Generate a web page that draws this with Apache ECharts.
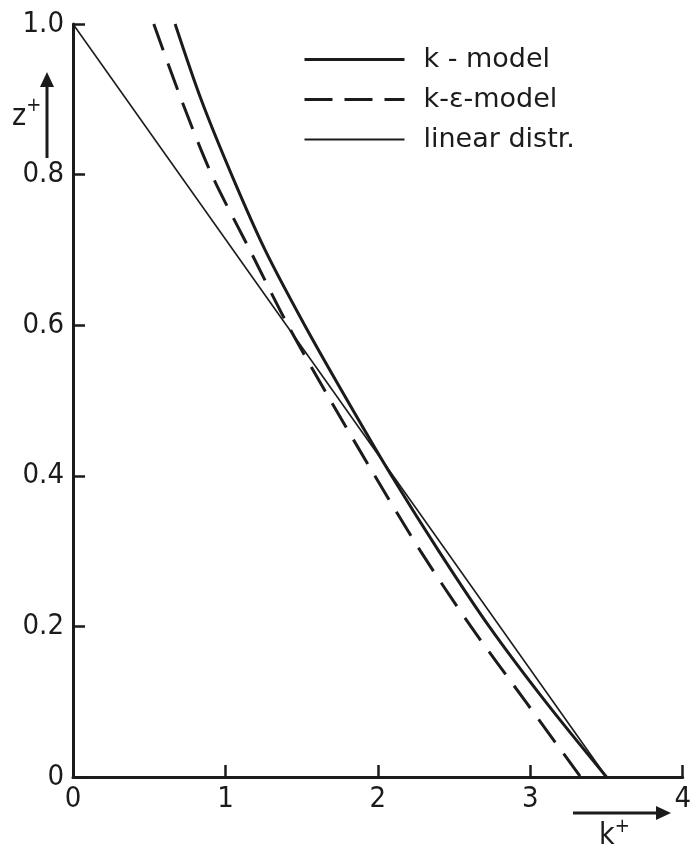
<!DOCTYPE html>
<html>
<head>
<meta charset="utf-8">
<script src="https://cdn.jsdelivr.net/npm/echarts@6/dist/echarts.min.js"></script>
<style>
html,body{margin:0;padding:0;background:#fff;}
#chart{width:694px;height:850px;}
</style>
</head>
<body>
<div id="chart"></div>
<script>
// z+ sample heights (shared by both model curves)
var zValues = [1.0, 0.9, 0.8, 0.7, 0.6, 0.5, 0.4, 0.3, 0.2, 0.1, 0.0];
// k+ values
var kModelX = [0.67, 0.84, 1.04, 1.26, 1.52, 1.80, 2.09, 2.40, 2.73, 3.10, 3.50];
var kEpsModelX = [0.53, 0.71, 0.91, 1.16, 1.41, 1.69, 1.98, 2.28, 2.61, 2.97, 3.33];
// linear distribution end points
var linearX = [0, 3.5];
var linearZ = [1.0, 0.0];
// axis ticks
var xTicks = [0, 1, 2, 3, 4];
var yTickLabels = ['0', '0.2', '0.4', '0.6', '0.8', '1.0'];
var seriesNames = ['k - model', 'k-\u03b5-model', 'linear distr.'];

function pairs(xs, zs) { return xs.map(function (x, i) { return [x, zs[i]]; }); }

var FONT = "'Liberation Sans Narrow', 'DejaVu Sans Condensed', 'Roboto Condensed', 'DejaVu Sans', sans-serif";
var LFONT = "'DejaVu Sans', 'Noto Sans', sans-serif";
var INK = '#1b1b1b';
var HIDE = {color: 'rgba(0,0,0,0)', borderColor: 'rgba(0,0,0,0)', borderWidth: 0, opacity: 0};

var chart = echarts.init(document.getElementById('chart'), null, {renderer: 'canvas'});
chart.setOption({
  backgroundColor: '#ffffff',
  animation: false,
  grid: {left: 73, right: 7, top: 24, bottom: 73, containLabel: false},
  legend: {
    orient: 'vertical',
    left: 303,
    top: 46,
    padding: 0,
    itemWidth: 100,
    itemHeight: 24,
    itemGap: 13,
    itemStyle: HIDE,
    data: [
      {name: seriesNames[0], itemStyle: HIDE, lineStyle: {width: 3, color: INK}},
      {name: seriesNames[1], itemStyle: HIDE, lineStyle: {width: 3, color: INK, type: [28, 12], dashOffset: 0}},
      {name: seriesNames[2], itemStyle: HIDE, lineStyle: {width: 2, color: INK}}
    ],
    textStyle: {fontFamily: LFONT, fontSize: 27, color: INK, padding: [0, 0, 0, 14]}
  },
  xAxis: {
    type: 'value', min: 0, max: 4, interval: 1,
    axisLine: {show: true, lineStyle: {color: INK, width: 3}},
    axisTick: {show: true, inside: true, length: 12, lineStyle: {color: INK, width: 2.5}},
    axisLabel: {
      margin: 8, fontFamily: FONT, fontSize: 29, color: INK,
      formatter: function (v) { return xTicks.indexOf(v) >= 0 ? String(v) : ''; }
    },
    splitLine: {show: false}
  },
  yAxis: {
    type: 'value', min: 0, max: 1, interval: 0.2,
    axisLine: {show: true, lineStyle: {color: INK, width: 3}},
    axisTick: {show: true, inside: true, length: 12, lineStyle: {color: INK, width: 2.5}},
    axisLabel: {
      margin: 9, fontFamily: FONT, fontSize: 29, color: INK,
      formatter: function (v) { return yTickLabels[Math.round(v * 5)]; }
    },
    splitLine: {show: false}
  },
  series: [
    {
      name: seriesNames[0], type: 'line', data: pairs(kModelX, zValues),
      smooth: 0.3, symbol: 'none', lineStyle: {color: INK, width: 3}, itemStyle: {color: INK}
    },
    {
      name: seriesNames[1], type: 'line', data: pairs(kEpsModelX, zValues),
      smooth: 0.3, symbol: 'none', lineStyle: {color: INK, width: 3, type: [28, 14]}, itemStyle: {color: INK}
    },
    {
      name: seriesNames[2], type: 'line', data: pairs(linearX, linearZ),
      symbol: 'none', lineStyle: {color: INK, width: 1.6}, itemStyle: {color: INK}
    }
  ],
  graphic: [
    // z+ axis name with upward arrow
    {type: 'line', shape: {x1: 47, y1: 158, x2: 47, y2: 84}, style: {stroke: INK, lineWidth: 3}},
    {type: 'polygon', shape: {points: [[40, 87], [54, 87], [47, 72]]}, style: {fill: INK}},
    {type: 'text', left: 12, top: 96, style: {
      text: '{b|z}{s|+}', rich: {
        b: {fontFamily: FONT, fontSize: 30, fill: INK, padding: [14, 0, 0, 0]},
        s: {fontFamily: FONT, fontSize: 20, fill: INK, padding: [0, 0, 8, 0]}
      }}},
    // k+ axis name with right arrow
    {type: 'line', shape: {x1: 573, y1: 813, x2: 658, y2: 813}, style: {stroke: INK, lineWidth: 3}},
    {type: 'polygon', shape: {points: [[656, 806], [656, 820], [671, 813]]}, style: {fill: INK}},
    {type: 'text', left: 599, top: 817, style: {
      text: '{b|k}{s|+}', rich: {
        b: {fontFamily: FONT, fontSize: 30, fill: INK, padding: [8, 0, 0, 0]},
        s: {fontFamily: FONT, fontSize: 20, fill: INK, padding: [0, 0, 10, 0]}
      }}}
  ]
});
</script>
</body>
</html>
